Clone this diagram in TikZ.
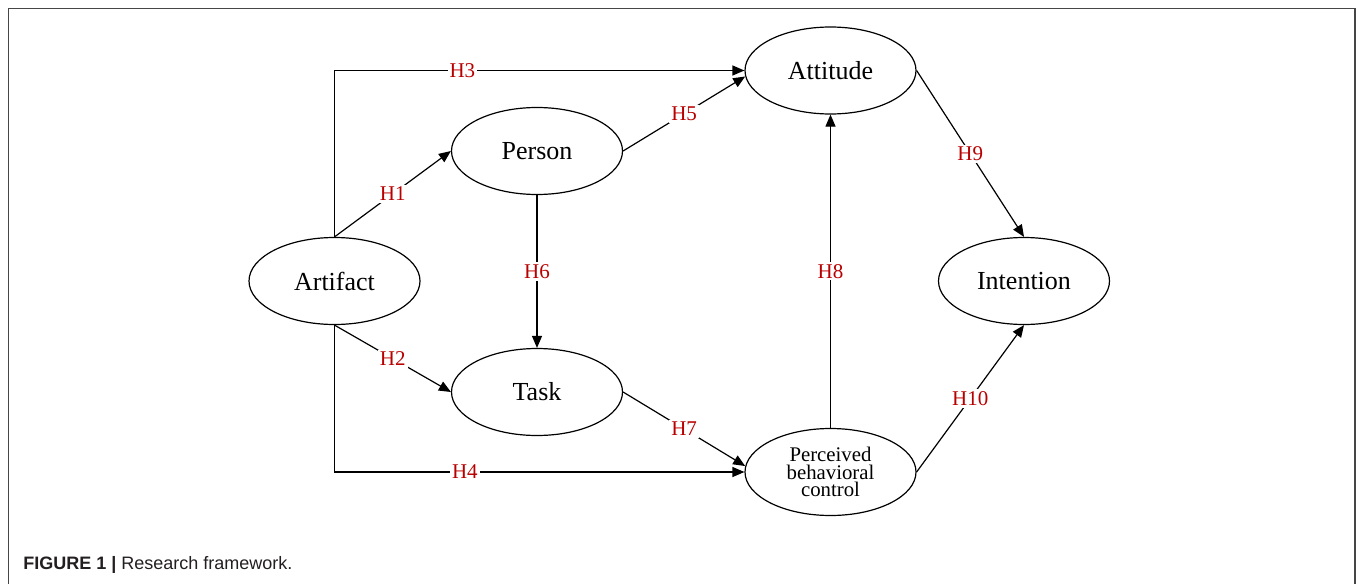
\documentclass[tikz,border=0pt]{standalone}
\usepackage{fontspec}
\setmainfont{Liberation Serif}
\newfontfamily\capfont{Liberation Sans}
\usetikzlibrary{arrows.meta,shapes.geometric}
\definecolor{hred}{RGB}{185,0,0}
\definecolor{framegray}{RGB}{70,70,70}
\definecolor{captext}{RGB}{35,31,32}
\begin{document}
\begin{tikzpicture}[x=0.5pt,y=-0.5pt,
  ell/.style={draw, ellipse, line width=0.6pt, minimum width=85.5pt, minimum height=43.5pt, inner sep=0pt, font=\fontsize{13}{15}\selectfont},
  conn/.style={line width=0.6pt, -{Triangle[length=6pt,width=5pt]}},
  hlab/.style={fill=white, text=hred, inner sep=1pt, font=\fontsize{10.5}{12}\selectfont}]
\useasboundingbox (0,0) rectangle (1358,583);
\draw[framegray, line width=0.8pt] (8.5,600) -- (8.5,8.5) -- (1355,8.5) -- (1355,600);

\node[ell] (art) at (334.5,281) {Artifact};
\node[ell] (per) at (537,151) {Person};
\node[ell] (task) at (537,392) {Task};
\node[ell] (att) at (830.5,70.5) {Attitude};
\node[ell, align=center, font=\fontsize{10.4}{8.9}\selectfont] (pbc) at (830.5,472) {Perceived\\behavioral\\control};
\node[ell] (int) at (1024,281) {Intention};

\draw[conn] (art.north) |- node[hlab,pos=0.656]{H3} (att.west);
\draw[conn] (art.north) -- node[hlab]{H1} (per.west);
\draw[conn] (art.south) -- node[hlab]{H2} (task.west);
\draw[conn] (art.south) |- node[hlab,pos=0.659]{H4} (pbc.west);
\draw[conn] (per.east) -- node[hlab]{H5} (att.184);
\draw[conn] (per.south) -- node[hlab]{H6} (task.north);
\draw[conn] (task.east) -- node[hlab]{H7} (pbc.176);
\draw[conn] (pbc.north) -- node[hlab]{H8} (att.south);
\draw[conn] (att.east) -- node[hlab]{H9} (int.north);
\draw[conn] (pbc.east) -- node[hlab]{H10} (int.south);

\node[anchor=base west, inner sep=0pt, text=captext, font=\capfont\fontsize{9}{11}\selectfont] (cap) at (23,569) {\textbf{FIGURE 1 |} Research framework.};
\end{tikzpicture}
\end{document}
